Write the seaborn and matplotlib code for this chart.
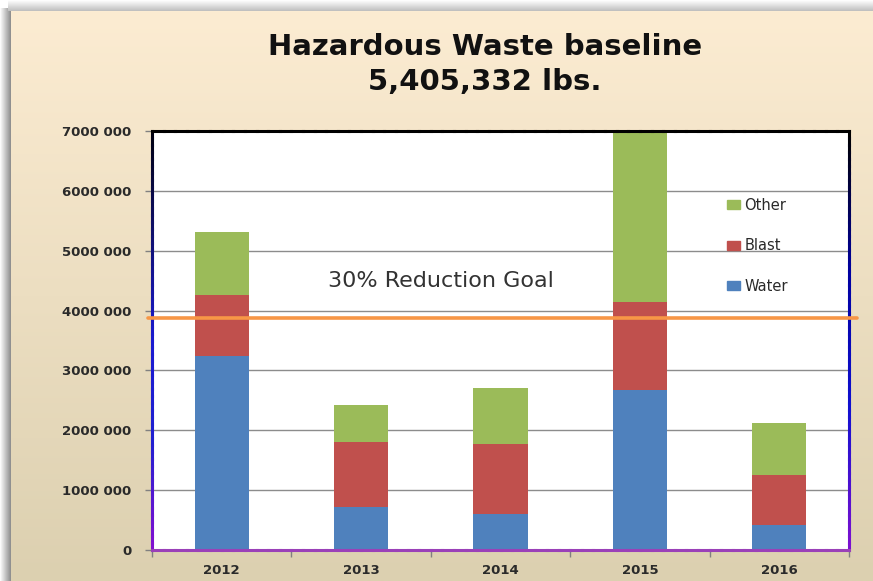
import numpy as np
import pandas as pd
import matplotlib
matplotlib.use("Agg")
import matplotlib.pyplot as plt
import seaborn as sns
from matplotlib.patches import Patch
from matplotlib.collections import LineCollection
from matplotlib.colors import LinearSegmentedColormap
from matplotlib.ticker import FuncFormatter, FixedLocator

# ---- data ----
years = ["2012", "2013", "2014", "2015", "2016"]
water = [3240000, 720000, 600000, 2670000, 420000]
blast = [1020000, 1080000, 1170000, 1470000, 840000]
other = [1060000, 630000, 930000, 2900000, 870000]
goal_value = 3870000
goal_label = "30% Reduction Goal"
title_lines = ["Hazardous Waste baseline", "5,405,332 lbs."]
series_names = ["Other", "Blast", "Water"]
y_ticks = [0, 1000000, 2000000, 3000000, 4000000, 5000000, 6000000, 7000000]

c_water = "#4F81BD"
c_blast = "#C0504D"
c_other = "#9BBB59"
c_goal = "#F79646"

sns.set_style("white")
plt.rcParams["font.family"] = ["DejaVu Sans"]

W, H = 873, 581
fig = plt.figure(figsize=(W / 100, H / 100), dpi=100)
fig.patch.set_facecolor("white")

# ---- background panel with gradient + shadow ----
bg = fig.add_axes([0, 0, 1, 1], zorder=0)
bg.set_xlim(0, W)
bg.set_ylim(H, 0)
bg.axis("off")
top_c = np.array([252, 236, 210]) / 255
bot_c = np.array([220, 208, 176]) / 255
t = np.linspace(0, 1, 256)[:, None]
grad = (top_c[None, :] * (1 - t) + bot_c[None, :] * t)[:, None, :]
bg.imshow(grad, extent=(11, W, H, 11), aspect="auto", zorder=1)
# left shadow
s = np.linspace(0, 1, 32)[None, :]
left_sh = (1 - s * 0.45)[..., None] * np.ones(3)
bg.imshow(left_sh[None, 0], extent=(0, 11, H, 8), aspect="auto", zorder=1)
# top shadow
s2 = np.linspace(0, 1, 16)[:, None]
top_sh = (1 - s2 * 0.25)[..., None] * np.ones((1, 1, 3))
bg.imshow(top_sh, extent=(8, W, 11, 0), aspect="auto", zorder=1)

# ---- title ----
fig.text(485 / W, 1 - 47 / H, title_lines[0], ha="center", va="center",
         fontsize=21, fontweight="bold", color="#111111")
fig.text(485 / W, 1 - 82 / H, title_lines[1], ha="center", va="center",
         fontsize=21, fontweight="bold", color="#111111")

# ---- main axes ----
L, R, T, B = 152, 849, 131, 550
ax = fig.add_axes([L / W, 1 - B / H, (R - L) / W, (B - T) / H], zorder=2)
ax.set_facecolor("white")

df = pd.DataFrame({"year": years, "Water": water, "Blast": blast, "Other": other})
df["cum_water"] = df["Water"]
df["cum_blast"] = df["Water"] + df["Blast"]
df["cum_other"] = df["Water"] + df["Blast"] + df["Other"]

for col, c in [("cum_other", c_other), ("cum_blast", c_blast), ("cum_water", c_water)]:
    sns.barplot(data=df, x="year", y=col, color=c, saturation=1, width=0.39,
                linewidth=0, ax=ax, zorder=3)

ax.set_ylim(0, 7000000)
ax.set_xlim(-0.5, len(years) - 0.5)
ax.set_xlabel("")
ax.set_ylabel("")
ax.set_axisbelow(True)
ax.yaxis.grid(True, color="#8c8c8c", lw=1)
ax.xaxis.grid(False)
for sp in ax.spines.values():
    sp.set_visible(False)

ax.yaxis.set_major_locator(FixedLocator(y_ticks))
ax.yaxis.set_major_formatter(FuncFormatter(
    lambda v, p: "0" if v == 0 else f"{int(v) // 1000} {int(v) % 1000:03d}"))
ax.tick_params(axis="y", which="major", left=True, length=5, width=1,
               color="#808080", pad=10, labelsize=9.5, labelcolor="#2a2a2a")
for lab in ax.get_yticklabels():
    lab.set_fontweight("bold")

n = len(years)
ax.xaxis.set_major_locator(FixedLocator(np.arange(n + 1) - 0.5))
ax.xaxis.set_minor_locator(FixedLocator(np.arange(n)))
ax.xaxis.set_major_formatter(FuncFormatter(lambda v, p: ""))
ax.xaxis.set_minor_formatter(FuncFormatter(lambda v, p: years[int(round(v))]))
ax.tick_params(axis="x", which="major", bottom=True, length=5, width=1, color="#808080")
ax.tick_params(axis="x", which="minor", bottom=True, length=0, pad=10,
               labelsize=9.5, labelcolor="#2a2a2a")
for lab in ax.xaxis.get_minorticklabels():
    lab.set_fontweight("bold")


# gradient frame lines
def grad_line(p0, p1, colors, lw=2.2):
    N = 60
    xs = np.linspace(p0[0], p1[0], N + 1)
    ys = np.linspace(p0[1], p1[1], N + 1)
    segs = [[(xs[i], ys[i]), (xs[i + 1], ys[i + 1])] for i in range(N)]
    cmap = LinearSegmentedColormap.from_list("g", colors)
    lc = LineCollection(segs, colors=cmap(np.linspace(0, 1, N)), linewidths=lw,
                        transform=ax.transAxes, clip_on=False, zorder=6,
                        capstyle="projecting")
    ax.add_collection(lc)


grad_line((0, 1), (0, 0), ["#000010", "#101070", "#1a1ad0", "#2020d0", "#8010d0"])
grad_line((1, 1), (1, 0), ["#000000", "#0000a0", "#1010d0", "#7a10d0"])
grad_line((0, 1), (1, 1), ["#000000", "#000000"])
grad_line((0, 0), (1, 0), ["#9a40b8", "#9a40b8"])

# goal line and label
ax.axhline(goal_value, xmin=-0.006, xmax=1.012, color=c_goal, lw=2.6,
           clip_on=False, zorder=7)
ax.text(1.57, 4490000, goal_label, ha="center", va="center", fontsize=16,
        color="#333333", zorder=8)

# legend
handles = [Patch(color=c_other), Patch(color=c_blast), Patch(color=c_water)]
leg = ax.legend(handles, series_names, loc="upper left", bbox_to_anchor=(0.81, 0.865),
                frameon=False, fontsize=10.5, labelspacing=1.75, handlelength=0.9,
                handleheight=0.6, handletextpad=0.3, borderpad=0.2)
for txt in leg.get_texts():
    txt.set_color("#2a2a2a")

fig.savefig("out.png", dpi=100)
